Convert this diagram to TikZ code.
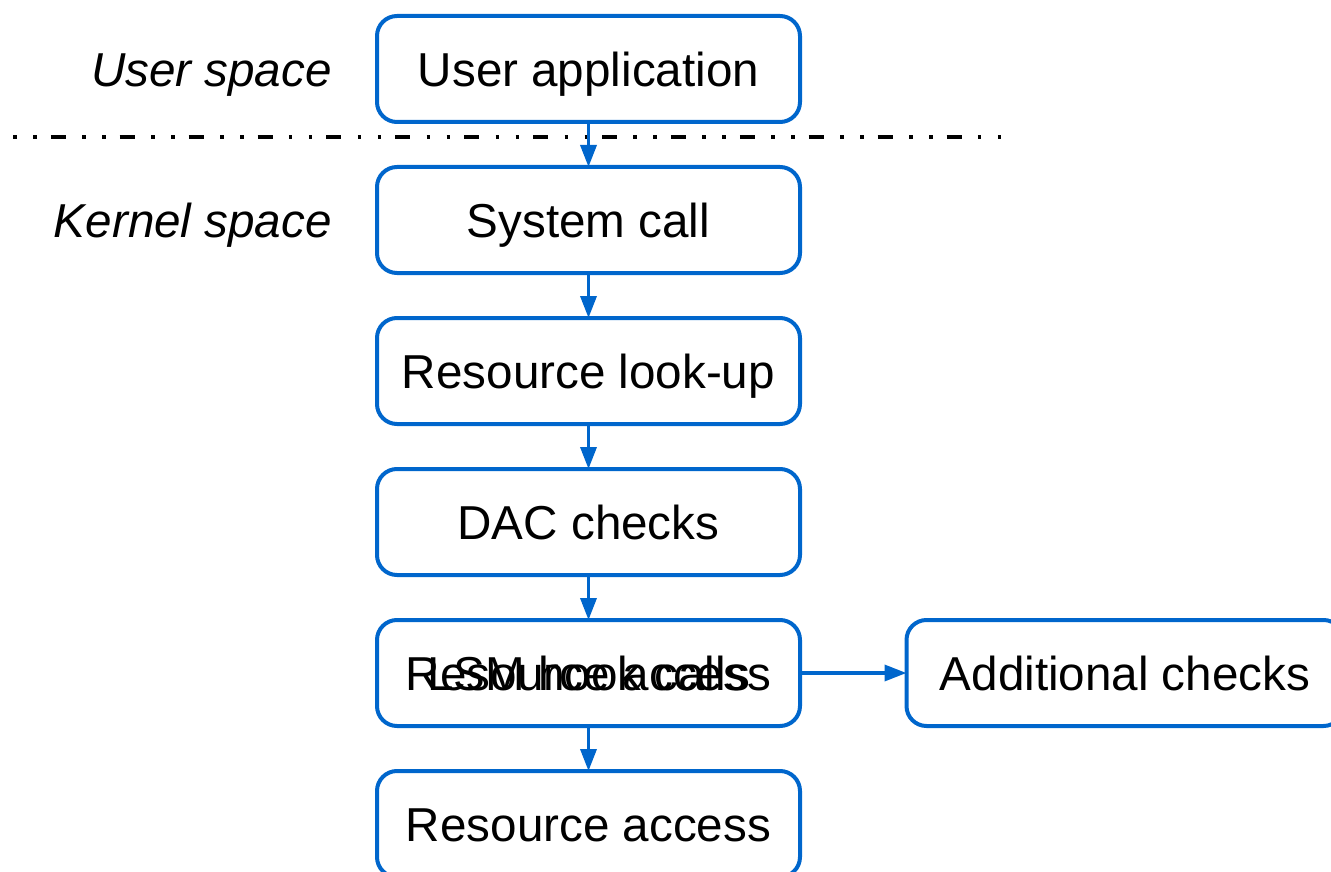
\documentclass[tikz,border=0pt]{standalone}
\usepackage{fontspec}
\setmainfont{Liberation Sans}
\usetikzlibrary{positioning,arrows.meta}
\definecolor{flowblue}{RGB}{0,102,204}
\tikzset{
stage/.style={
	  draw=flowblue, line width=4pt, rounded corners=20pt,
	    minimum width=423pt, minimum height=106pt, outer sep=0pt,
	    inner sep=0pt, text height=34.1pt, text depth=0pt},
realm/.style={
	  font=\fontsize{47.6}{57}\selectfont\itshape, inner sep=0pt,
	    text height=34.1pt, text depth=0pt},
flowarrow/.style={draw=flowblue, line width=3.5pt, -{Triangle[length=22pt,width=16pt]}}
}

\begin{document}
\begin{tikzpicture}[node distance=45pt, font=\fontsize{47.6}{57}\selectfont]
	\useasboundingbox (0,0) rectangle (1331pt,-872pt);
	\node[stage] (app) at (588.5pt,-69pt) {User application};
	\node[stage, below=of app] (syscall) {System call};
	\node[stage, below=of syscall] (lookup) {Resource look-up};
	\node[stage, below=of lookup] (dac) {DAC checks};
	\node[stage, below=of dac] (lsm) {LSM hook calls};
	\node[inner sep=0pt, text height=34.1pt, text depth=0pt] (lsmover) at (lsm) {Resource access};
	\node[stage, below=of lsm] (access) {Resource access};
	\node[stage, right=106.5pt of lsm, minimum width=437pt] (extra) {Additional checks};
	\node[realm, left=of app] (userlbl) {User space};
	\node[realm, left=of syscall] (kernlbl) {Kernel space};
	\coordinate (sepL) at (13.3pt,-137pt);
	\coordinate (sepR) at (1001.7pt,-137pt);
	\draw[line width=4pt, dash pattern=on 3.5pt off 16.5pt on 3.5pt off 14pt on 15pt off 16.4pt] (sepL) -- (sepR);
	\draw[flowarrow] (app) -- (syscall);
	\draw[flowarrow] (syscall) -- (lookup);
	\draw[flowarrow] (lookup) -- (dac);
	\draw[flowarrow] (dac) -- (lsm);
	\draw[flowarrow] (lsm) -- (access);
	\draw[flowarrow] (lsm) -- (extra);
\end{tikzpicture}
\end{document}
